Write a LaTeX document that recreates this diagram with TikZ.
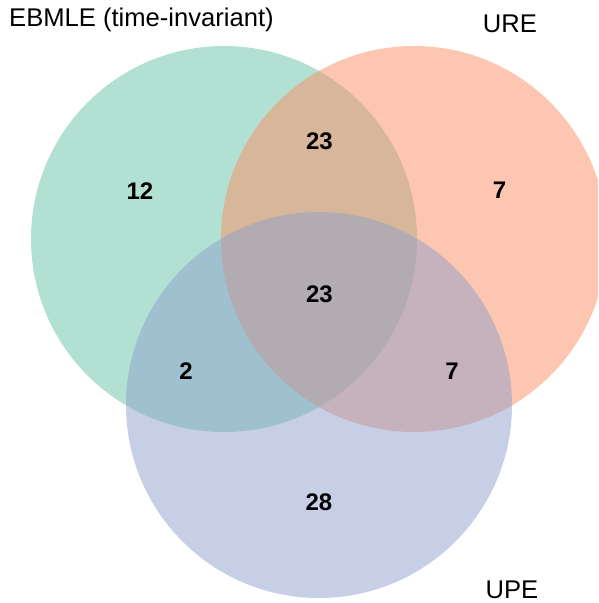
\documentclass[tikz,border=0pt]{standalone}
\usepackage{fontspec}
\setmainfont{Liberation Sans}
\definecolor{setgreen}{HTML}{66C2A5}
\definecolor{setorange}{HTML}{FC8D62}
\definecolor{setblue}{HTML}{8DA0CB}
\begin{document}
\begin{tikzpicture}[x=1pt,y=-1pt,
  setcircle/.style={fill opacity=0.5, draw=none},
  count/.style={font=\fontsize{24}{28}\selectfont\bfseries, inner sep=0pt, anchor=center},
  setlabel/.style={font=\fontsize{25.6}{30}\selectfont, inner sep=0pt}]
\useasboundingbox (0,0) rectangle (598,603);
\begin{scope}
\clip (0,0) rectangle (598,603);
\fill[setcircle, setgreen] (224,239) circle[radius=193];
\fill[setcircle, setorange] (414,239) circle[radius=193];
\fill[setcircle, setblue] (319,405) circle[radius=193];
\end{scope}
\node[setlabel, anchor=base west] (lA) at (9,26) {EBMLE (time-invariant)};
\node[setlabel, anchor=base] (lB) at (510,32) {URE};
\node[setlabel, anchor=base] (lC) at (512,598) {UPE};
\node[count] (nA) at (140,191) {12};
\node[count] (nAB) at (319.5,141.5) {23};
\node[count] (nB) at (499.5,190) {7};
\node[count] (nABC) at (319.5,294) {23};
\node[count] (nAC) at (186,371) {2};
\node[count] (nBC) at (452,371) {7};
\node[count] (nC) at (319,502) {28};
\end{tikzpicture}
\end{document}
